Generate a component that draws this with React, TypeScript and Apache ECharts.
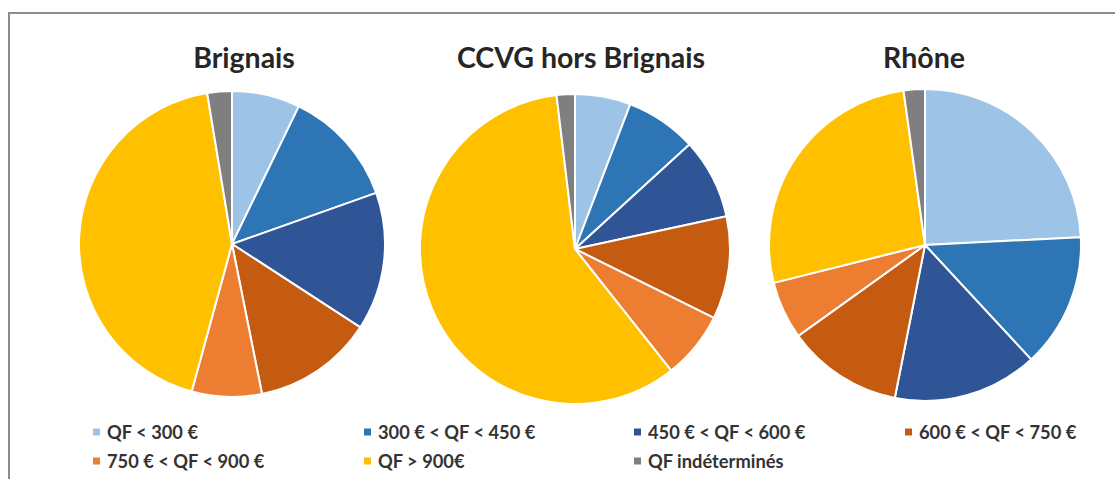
import React, { useEffect, useRef } from "react";
import * as echarts from "echarts";

const categories = [
  "QF < 300 €",
  "300 € < QF < 450 €",
  "450 € < QF < 600 €",
  "600 € < QF < 750 €",
  "750 € < QF < 900 €",
  "QF > 900€",
  "QF indéterminés",
];
const colors = ["#9DC3E6", "#2E75B6", "#2F5597", "#C55A11", "#ED7D31", "#FFC000", "#7F7F7F"];
const pieTitles = ["Brignais", "CCVG hors Brignais", "Rhône"];
const brignais = [7.2, 12.4, 14.6, 12.7, 7.4, 43.2, 2.6];
const ccvg = [5.8, 7.4, 8.4, 10.7, 7.0, 58.7, 1.9];
const rhone = [24.2, 13.9, 15.0, 12.0, 6.0, 26.7, 2.2];

const FONT = "Lato, 'Open Sans', sans-serif";

export default function App() {
  const ref = useRef<HTMLDivElement>(null);
  useEffect(() => {
    if (!ref.current) return;
    const chart = echarts.init(ref.current, undefined, { renderer: "svg" });
    const datasets = [brignais, ccvg, rhone];
    const centers = [
      [232, 244],
      [575, 249],
      [925, 245],
    ];
    const radii = [153, 155, 156];
    const titleX = [244, 581, 924];
    const legendPos = [
      [91, 0], [362, 0], [632, 0], [903, 0],
      [91, 1], [362, 1], [632, 1],
    ];
    chart.setOption({
      animation: false,
      title: pieTitles.map((t, i) => ({
        text: t,
        left: titleX[i],
        top: 42,
        textAlign: "center",
        padding: 0,
        textStyle: { fontFamily: FONT, fontSize: 28.5, fontWeight: "bold", color: "#262626" },
      })),
      legend: categories.map((c, i) => ({
        data: [{ name: c, icon: "rect" }],
        left: legendPos[i][0],
        top: 423 + legendPos[i][1] * 29,
        padding: 0,
        itemWidth: 9,
        itemHeight: 9,
        itemGap: 0,
        selectedMode: false,
        textStyle: { fontFamily: FONT, fontSize: 18.3, fontWeight: "bold", color: "#333333", padding: [0, 0, 0, 1] },
      })),
      graphic: [
        {
          type: "polyline",
          shape: { points: [[9, 479], [9, 13], [1115, 13]] },
          style: { stroke: "#8C8C8C", lineWidth: 2, fill: "none" },
          silent: true,
        },
      ],
      series: datasets.map((d, k) => ({
        type: "pie",
        center: centers[k],
        radius: [0, radii[k]],
        startAngle: 90,
        clockwise: true,
        label: { show: false },
        labelLine: { show: false },
        silent: true,
        itemStyle: { borderColor: "#ffffff", borderWidth: 2 },
        data: categories.map((c, i) => ({ name: c, value: d[i], itemStyle: { color: colors[i] } })),
      })),
    });
    return () => chart.dispose();
  }, []);
  return (
    <div
      ref={ref}
      style={{ position: "fixed", left: 0, top: 0, width: 1115, height: 479, background: "#fff" }}
    />
  );
}
